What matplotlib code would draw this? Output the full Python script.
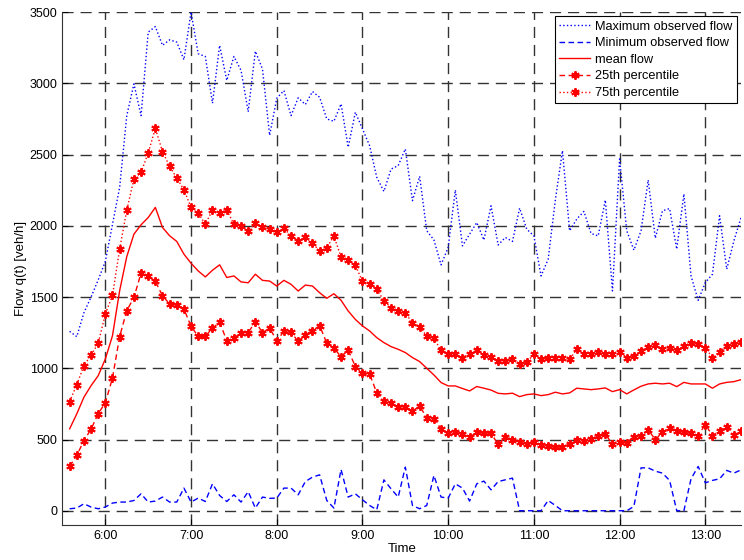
import matplotlib
matplotlib.use("Agg")
import matplotlib.pyplot as plt
import matplotlib.dates as mdates
from matplotlib.ticker import FuncFormatter
import pandas as pd

plt.rcParams['font.family'] = ['Liberation Sans', 'DejaVu Sans']

# 5-minute intervals from 5:35 to 13:25
times = pd.date_range('2000-01-01 05:35', '2000-01-01 13:25', freq='5min')

max_flow = [1259, 1222, 1390, 1500, 1620, 1750, 2010, 2269, 2773, 2996,
            2773, 3359, 3398, 3266, 3305, 3289, 3165, 3500, 3207, 3188,
            2860, 3266, 3020, 3188, 3090, 2800, 3225, 3100, 2635, 2895,
            2949, 2773, 2898, 2851, 2942, 2902, 2750, 2733, 2855, 2551,
            2797, 2680, 2562, 2340, 2241, 2398, 2422, 2539, 2176, 2347,
            1965, 1901, 1726, 1848, 2251, 1859, 1941, 2023, 1900, 2140,
            1865, 1918, 1890, 2124, 1976, 1929, 1648, 1765, 2180, 2527,
            1965, 2047, 2101, 1946, 1929, 2180, 1543, 2469, 1965, 1829,
            1965, 2321, 1913, 2105, 2121, 1836, 2223, 1648, 1477, 1601,
            1660, 2070, 1695, 1894, 2058]

min_flow = [14, 19, 49, 26, 14, 26, 54, 61, 61, 72,
            119, 61, 68, 96, 61, 61, 159, 61, 89, 65,
            189, 107, 65, 112, 61, 134, 19, 96, 87, 89,
            159, 159, 112, 205, 236, 252, 72, 19, 290, 96,
            119, 77, 37, 7, 217, 154, 96, 306, 37, 14,
            37, 248, 96, 89, 189, 159, 68, 189, 208, 147,
            205, 217, 229, 0, 0, 0, 0, 72, 37, 0,
            0, 0, 0, 0, 0, 0, 0, 0, 0, 30,
            301, 301, 278, 264, 213, 0, 0, 224, 311, 196,
            213, 224, 283, 264, 287]

mean_flow = [575, 680, 797, 878, 948, 1065, 1229, 1544, 1784, 1941,
             2007, 2058, 2129, 1988, 1930, 1890, 1801, 1737, 1683, 1641,
             1688, 1726, 1637, 1648, 1606, 1600, 1660, 1617, 1612, 1577,
             1617, 1589, 1542, 1584, 1577, 1530, 1491, 1523, 1477, 1402,
             1343, 1297, 1262, 1215, 1180, 1152, 1133, 1110, 1075, 1047,
             1000, 953, 900, 876, 876, 858, 841, 872, 860, 847,
             824, 820, 825, 801, 815, 820, 808, 815, 832, 820,
             827, 860, 855, 850, 855, 862, 836, 850, 820, 848,
             874, 890, 895, 890, 895, 871, 901, 890, 890, 890,
             860, 890, 901, 906, 920]

p25 = [311, 388, 493, 572, 682, 757, 932, 1222, 1404, 1497,
       1668, 1645, 1610, 1509, 1451, 1446, 1416, 1294, 1224, 1224,
       1282, 1322, 1194, 1212, 1250, 1250, 1327, 1250, 1282, 1194,
       1259, 1252, 1189, 1236, 1264, 1299, 1177, 1140, 1082, 1128,
       1012, 965, 960, 827, 773, 757, 727, 731, 698, 736,
       652, 647, 575, 544, 551, 540, 516, 551, 544, 544,
       465, 516, 500, 481, 470, 481, 458, 451, 446, 446,
       470, 500, 493, 505, 523, 540, 465, 481, 477, 521,
       528, 568, 500, 551, 582, 563, 551, 544, 528, 605,
       528, 563, 591, 533, 563]

p75 = [766, 885, 1018, 1093, 1175, 1381, 1511, 1836, 2110, 2328,
       2375, 2511, 2684, 2520, 2417, 2335, 2253, 2129, 2087, 2012,
       2110, 2089, 2110, 2012, 2000, 1965, 2016, 1988, 1974, 1953,
       1981, 1930, 1894, 1918, 1878, 1824, 1847, 1927, 1782, 1758,
       1723, 1610, 1592, 1554, 1475, 1425, 1402, 1386, 1320, 1290,
       1227, 1210, 1126, 1098, 1098, 1075, 1103, 1126, 1094, 1080,
       1053, 1051, 1068, 1028, 1044, 1098, 1063, 1075, 1075, 1075,
       1063, 1133, 1098, 1098, 1115, 1098, 1098, 1115, 1075, 1087,
       1122, 1152, 1161, 1138, 1145, 1126, 1157, 1175, 1173, 1145,
       1075, 1115, 1157, 1168, 1187]

fig = plt.figure(figsize=(7.44, 5.60), dpi=100)
ax = fig.add_axes([0.084, 0.0625, 0.912, 0.916])

star = (6, 2, 0)
ax.plot(times, max_flow, color='#0000ff', ls=':', lw=1.0, label='Maximum observed flow')
ax.plot(times, min_flow, color='#0000ff', ls=(0, (4, 2.5)), lw=1.0, label='Minimum observed flow')
ax.plot(times, mean_flow, color='#ff0000', ls='-', lw=1.0, label='mean flow')
ax.plot(times, p25, color='#ff0000', ls=(0, (4, 2.5)), lw=1.0, marker=star,
        ms=6, mew=1.4, label='25th percentile')
ax.plot(times, p75, color='#ff0000', ls=':', lw=1.0, marker=star,
        ms=6, mew=1.4, label='75th percentile')

ax.set_xlim(pd.Timestamp('2000-01-01 05:30'), pd.Timestamp('2000-01-01 13:25'))
ax.set_ylim(-100, 3500)
ax.set_yticks(range(0, 3501, 500))
ax.xaxis.set_major_locator(mdates.HourLocator())
ax.xaxis.set_major_formatter(FuncFormatter(
    lambda v, p: '%d:%02d' % (mdates.num2date(v).hour, mdates.num2date(v).minute)))

ax.grid(True, color='0.2', ls=(0, (8, 5)), lw=1.0)
ax.spines['top'].set_visible(False)
ax.spines['right'].set_visible(False)
ax.spines['left'].set_color('0.2')
ax.spines['bottom'].set_color('0.2')
ax.tick_params(direction='in', length=4, labelsize=9, colors='black')
ax.set_xlabel('Time', fontsize=9.5, labelpad=1)
ax.set_ylabel('Flow q(t) [veh/h]', fontsize=9.5, labelpad=2)

leg = ax.legend(loc='upper right', bbox_to_anchor=(0.994, 0.992), fontsize=9.2,
                fancybox=False, framealpha=1, edgecolor='black',
                handlelength=2.4, borderpad=0.35, labelspacing=0.36,
                handletextpad=0.4, borderaxespad=0)
leg.get_frame().set_linewidth(0.8)

fig.savefig('out.png', dpi=100)
